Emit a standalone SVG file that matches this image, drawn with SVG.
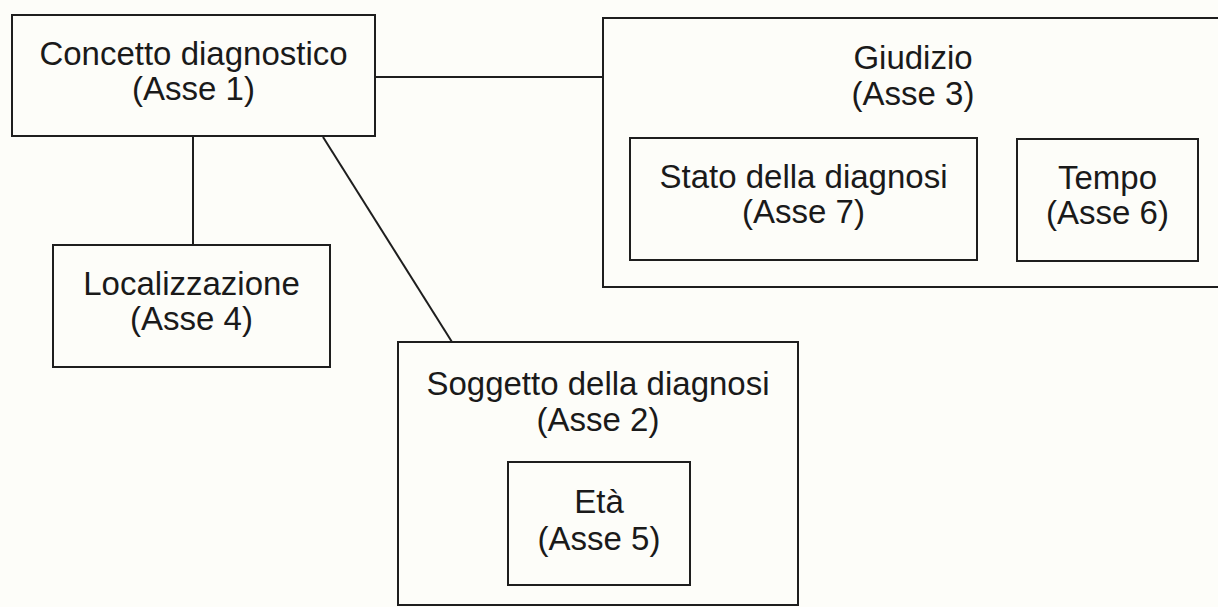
<svg xmlns="http://www.w3.org/2000/svg" width="1218" height="607" viewBox="0 0 1218 607">
<style>
.box{fill:none;stroke:#1e1e1e;stroke-width:2}
.ln{fill:none;stroke:#1e1e1e;stroke-width:2}
text{font-family:"Liberation Sans",Arial,sans-serif;font-size:33px;fill:#1a1a1a;text-anchor:middle}
</style>
<rect x="0" y="0" width="1218" height="607" fill="#fdfdf9"/>
<g id="connectors">
<line class="ln" x1="375" y1="77" x2="603" y2="77"/>
<line class="ln" x1="193" y1="136" x2="193" y2="245"/>
<line class="ln" x1="323" y1="137" x2="452" y2="342"/>
</g>
<g id="concetto">
<rect class="box" x="12" y="15" width="363" height="121"/>
<text x="193.5" y="65">Concetto diagnostico</text>
<text x="193.5" y="100">(Asse 1)</text>
</g>
<g id="giudizio">
<rect class="box" x="603" y="18" width="625" height="269"/>
<text x="913" y="69">Giudizio</text>
<text x="913" y="105">(Asse 3)</text>
</g>
<g id="stato">
<rect class="box" x="630" y="138" width="347" height="122"/>
<text x="803.5" y="188">Stato della diagnosi</text>
<text x="803.5" y="223">(Asse 7)</text>
</g>
<g id="tempo">
<rect class="box" x="1017" y="139" width="181" height="122"/>
<text x="1107.5" y="189">Tempo</text>
<text x="1107.5" y="224">(Asse 6)</text>
</g>
<g id="localizzazione">
<rect class="box" x="53" y="245" width="277" height="122"/>
<text x="191.5" y="295">Localizzazione</text>
<text x="191.5" y="330">(Asse 4)</text>
</g>
<g id="soggetto">
<rect class="box" x="398" y="342" width="400" height="263"/>
<text x="598" y="395">Soggetto della diagnosi</text>
<text x="598" y="431">(Asse 2)</text>
</g>
<g id="eta">
<rect class="box" x="508" y="462" width="182" height="123"/>
<text x="599" y="513">Età</text>
<text x="599" y="550">(Asse 5)</text>
</g>
</svg>
